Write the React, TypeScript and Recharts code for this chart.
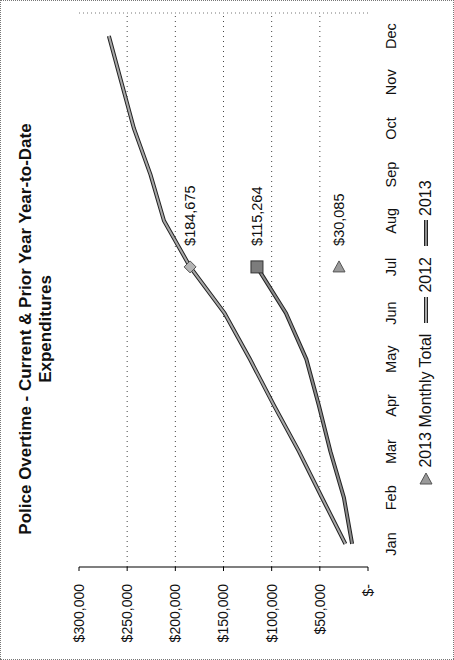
import { LineChart, Line, XAxis, YAxis, ReferenceLine } from 'recharts';

// Police overtime, cumulative year-to-date spend by month
const months = ['Jan', 'Feb', 'Mar', 'Apr', 'May', 'Jun', 'Jul', 'Aug', 'Sep', 'Oct', 'Nov', 'Dec'];
const ytd2012 = [23500, 47700, 71600, 97600, 122500, 149000, 184675, 211800, 225800, 243000, 256000, 269000];
const ytd2013 = [16500, 25000, 39000, 51000, 64000, 85179, 115264];
const monthlyTotal2013 = [null, null, null, null, null, null, 30085];
const currentMonth = 'Jul';

const valueTicks = [0, 50000, 100000, 150000, 200000, 250000, 300000];
const gridValues = [50000, 100000, 150000, 200000, 250000];

const FONT = '"Liberation Sans", Arial, sans-serif';
const FILL_2012 = '#a8a8a8';
const FILL_2013 = '#8c8c8c';
const EDGE = '#222';

const W = 660;
const H = 454;

const data = months.map((month, i) => ({
  idx: i,
  month,
  y2012: ytd2012[i] ?? null,
  y2013: ytd2013[i] ?? null,
  total: monthlyTotal2013[i] ?? null,
}));

const currentIdx = months.indexOf(currentMonth);
// tick marks sit between the month labels
const monthEdges = [...months.map((_, i) => i - 0.5), months.length - 0.5];

const fmtMoney = (n: number) => (n === 0 ? '$-' : `$${n.toLocaleString('en-US')}`);

const Diamond = ({ cx, cy }: any) => (
  <polygon
    points={`${cx},${cy - 6} ${cx + 6},${cy} ${cx},${cy + 6} ${cx - 6},${cy}`}
    fill="#b4b4b4"
    stroke="#555"
    strokeWidth={1}
  />
);

const Square = ({ cx, cy }: any) => (
  <rect x={cx - 6} y={cy - 6} width={12} height={12} fill="#7c7c7c" stroke="#333" strokeWidth={1} />
);

// apex points to the right so it reads upward once the card is turned
const Triangle = ({ cx, cy }: any) => (
  <polygon
    points={`${cx + 6},${cy} ${cx - 5},${cy - 6} ${cx - 5},${cy + 6}`}
    fill="#9a9a9a"
    stroke="#555"
    strokeWidth={1}
  />
);

const onlyCurrent = (Marker: any) => (props: any) =>
  props.index === currentIdx && props.cy != null ? <Marker key={`m-${props.index}`} cx={props.cx} cy={props.cy} /> : null;

const valueLabel = (props: any) => {
  const { x, y, value, index } = props;
  if (index !== currentIdx || value == null) return null;
  return (
    <text key={`l-${index}`} x={x + 21} y={y} dy="0.35em" fontSize={14.5} fontFamily={FONT} fill="#111">
      {fmtMoney(value)}
    </text>
  );
};

const legendItems = [
  { label: '2013 Monthly Total', kind: 'triangle' },
  { label: '2012', kind: 'line', fill: FILL_2012 },
  { label: '2013', kind: 'line', fill: FILL_2013 },
];

// drawn outside the chart: the legend box measurement gets confused by the rotation
const LegendRow = () => (
  <div
    style={{
      position: 'absolute',
      left: 0,
      top: 415,
      width: 652,
      display: 'flex',
      justifyContent: 'center',
      alignItems: 'center',
      height: 20,
      fontSize: 16,
      fontFamily: FONT,
      color: '#111',
    }}
  >
    {legendItems.map((item, i) => (
      <span key={item.label} style={{ display: 'flex', alignItems: 'center', marginLeft: i ? 10 : 0 }}>
        {item.kind === 'triangle' ? (
          <svg width={14} height={14} style={{ marginRight: 4 }}>
            <Triangle cx={7} cy={7} />
          </svg>
        ) : (
          <svg width={28} height={8} style={{ marginRight: 3 }}>
            <line x1={1} y1={4} x2={27} y2={4} stroke={EDGE} strokeWidth={4} />
            <line x1={1} y1={4} x2={27} y2={4} stroke={item.fill} strokeWidth={2} />
          </svg>
        )}
        {item.label}
      </span>
    ))}
  </div>
);

function Chart() {
  return (
    <LineChart width={W} height={H} data={data} margin={{ top: 78, right: 14, bottom: 42, left: 0 }}>
      <XAxis
        xAxisId="pos"
        type="number"
        dataKey="idx"
        domain={[-0.5, months.length - 0.5]}
        ticks={monthEdges}
        tick={false}
        tickSize={4}
        height={0}
        axisLine={{ stroke: '#000', strokeWidth: 1.2 }}
        tickLine={{ stroke: '#000' }}
      />
      <XAxis
        xAxisId="lbl"
        type="category"
        dataKey="month"
        scale="band"
        height={45}
        axisLine={false}
        tickLine={false}
        tickSize={4}
        tickMargin={14}
        interval={0}
        tick={{ fill: '#111', fontSize: 14.5, fontFamily: FONT }}
      />
      <YAxis
        domain={[0, 300000]}
        ticks={valueTicks}
        tickFormatter={fmtMoney}
        width={92}
        tickSize={4}
        tickMargin={13}
        axisLine={{ stroke: '#000', strokeWidth: 1.2 }}
        tickLine={{ stroke: '#000' }}
        tick={{ fill: '#111', fontSize: 14, fontFamily: FONT }}
      />
      {gridValues.map((v) => (
        <ReferenceLine key={v} y={v} xAxisId="pos" stroke="#444" strokeDasharray="1 4" />
      ))}
      <ReferenceLine x={months.length - 0.5} xAxisId="pos" stroke="#777" strokeDasharray="1 3" />

      {/* each series is a dark outline with a grey core */}
      <Line xAxisId="pos" type="linear" dataKey="y2012" stroke={EDGE} strokeWidth={4} dot={false} legendType="none" isAnimationActive={false} />
      <Line
        xAxisId="pos"
        type="linear"
        dataKey="y2012"
        stroke={FILL_2012}
        strokeWidth={2}
        dot={onlyCurrent(Diamond)}
        label={valueLabel}
        isAnimationActive={false}
      />
      <Line xAxisId="pos" type="linear" dataKey="y2013" stroke={EDGE} strokeWidth={4} dot={false} legendType="none" isAnimationActive={false} />
      <Line
        xAxisId="pos"
        type="linear"
        dataKey="y2013"
        stroke={FILL_2013}
        strokeWidth={2}
        dot={onlyCurrent(Square)}
        label={valueLabel}
        isAnimationActive={false}
      />
      <Line
        xAxisId="pos"
        dataKey="total"
        stroke="none"
        dot={onlyCurrent(Triangle)}
        label={valueLabel}
        isAnimationActive={false}
      />
    </LineChart>
  );
}

export default function App() {
  return (
    <div style={{ position: 'absolute', left: 0, top: 0, width: H, height: W, background: '#fff', overflow: 'hidden' }}>
      {/* the card is laid out landscape and turned a quarter to the left */}
      <div
        style={{
          position: 'absolute',
          left: 0,
          top: 0,
          width: W,
          height: H,
          boxSizing: 'border-box',
          border: '1px dotted #777',
          transformOrigin: '0 0',
          transform: `translateY(${W}px) rotate(-90deg)`,
          fontFamily: FONT,
        }}
      >
        <Chart />
        <div
          style={{
            position: 'absolute',
            left: 0,
            top: 15,
            width: W,
            textAlign: 'center',
            fontSize: 17,
            fontWeight: 'bold',
            lineHeight: '20px',
            color: '#111',
          }}
        >
          Police Overtime - Current &amp; Prior Year Year-to-Date
          <br />
          Expenditures
        </div>
        <LegendRow />
      </div>
    </div>
  );
}
